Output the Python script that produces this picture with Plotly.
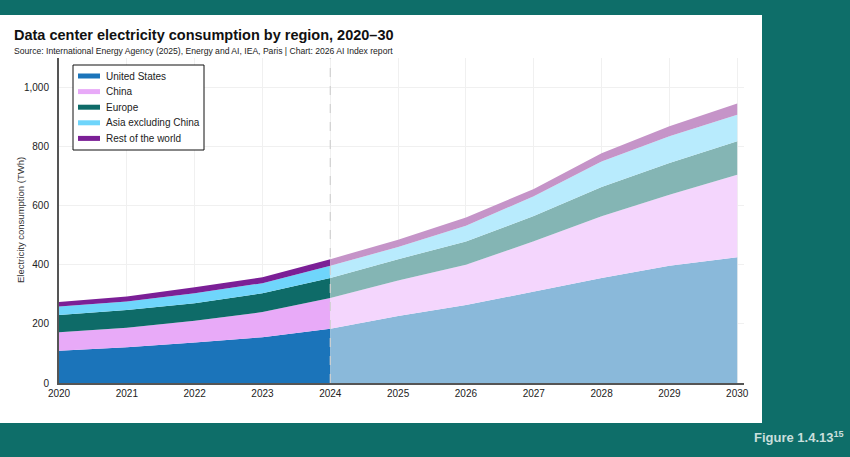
import plotly.graph_objects as go

years_hist = [2020, 2021, 2022, 2023, 2024]
years_proj = [2024, 2025, 2026, 2027, 2028, 2029, 2030]

regions = ["United States", "China", "Europe", "Asia excluding China", "Rest of the world"]

# TWh per region (stacked components)
us = [109, 121, 137, 155, 184, 227, 264, 310, 355, 397, 426]
china = [63, 66, 74, 85, 104, 120, 136, 170, 209, 240, 279]
europe = [58, 60, 59, 64, 67, 72, 79, 85, 99, 108, 113]
asia = [29, 29, 34, 34, 42, 41, 53, 67, 87, 90, 90]
row = [15, 17, 20, 20, 22, 25, 28, 25, 28, 34, 38]
all_years = [2020, 2021, 2022, 2023, 2024, 2025, 2026, 2027, 2028, 2029, 2030]

series = [us, china, europe, asia, row]
hist_colors = ["#1b74ba", "#e8aaf8", "#0e6b68", "#6fd5fb", "#7b1f96"]
proj_colors = ["#8ab9da", "#f4d6fd", "#84b5b4", "#b8ebfd", "#c594c8"]

y_ticks = [0, 200, 400, 600, 800, 1000]
y_tick_text = ["0", "200", "400", "600", "800", "1,000"]

# Plot area in pixels
L, R, T, B = 59, 744, 58, 383
W, H = 850, 457
pw, ph = R - L, B - T


def px(x):
    return (x - L) / pw


def py(y):
    return (B - y) / ph


fig = go.Figure()

n_hist = len(years_hist)
for name, vals, c in zip(regions, series, hist_colors):
    fig.add_trace(go.Scatter(
        x=years_hist, y=vals[:n_hist], stackgroup="hist", mode="lines",
        line=dict(width=0, color=c), fillcolor=c, showlegend=False,
        hoverinfo="skip"))

for name, vals, c in zip(regions, series, proj_colors):
    fig.add_trace(go.Scatter(
        x=years_proj, y=vals[n_hist - 1:], stackgroup="proj", mode="lines",
        line=dict(width=0, color=c), fillcolor=c, showlegend=False,
        hoverinfo="skip"))

font_family = "Liberation Sans, Arial, sans-serif"

shapes = [
    dict(type="rect", xref="paper", yref="paper",
         x0=px(0), x1=px(762), y0=py(423), y1=py(15),
         fillcolor="white", line=dict(width=0), layer="below"),
    dict(type="line", xref="x", yref="paper", x0=2024, x1=2024, y0=0, y1=1,
         line=dict(color="#d0d0d0", width=1.2, dash="dash"), layer="above"),
    # legend box
    dict(type="rect", xref="paper", yref="paper",
         x0=px(73), x1=px(204), y0=py(150), y1=py(65),
         fillcolor="white", line=dict(color="#111111", width=1), layer="above"),
]

annotations = [
    dict(text="<b>Data center electricity consumption by region, 2020–30</b>",
         xref="paper", yref="paper", x=px(12), y=py(35), xanchor="left", yanchor="middle",
         showarrow=False, font=dict(size=14.5, color="#111111", family=font_family)),
    dict(text="Source: International Energy Agency (2025), Energy and AI, IEA, Paris | Chart: 2026 AI Index report",
         xref="paper", yref="paper", x=px(12), y=py(51), xanchor="left", yanchor="middle",
         showarrow=False, font=dict(size=8.6, color="#222222", family=font_family)),
    dict(text="Electricity consumption (TWh)", textangle=-90,
         xref="paper", yref="paper", x=px(20), y=py(220), xanchor="center", yanchor="middle",
         showarrow=False, font=dict(size=9.5, color="#333333", family=font_family)),
    dict(text="<b>Figure 1.4.13<sup>15</sup></b>",
         xref="paper", yref="paper", x=px(846), y=py(437), xanchor="right", yanchor="middle",
         showarrow=False, font=dict(size=13, color="#c9dfdc", family=font_family)),
]

# legend entries
row_y0, row_step = 76, 15.6
for i, (name, c) in enumerate(zip(regions, hist_colors)):
    yy = row_y0 + i * row_step
    shapes.append(dict(type="line", xref="paper", yref="paper",
                       x0=px(78), x1=px(100), y0=py(yy), y1=py(yy),
                       line=dict(color=c, width=5), layer="above"))
    annotations.append(dict(text=name, xref="paper", yref="paper",
                            x=px(104), y=py(yy), xanchor="left", yanchor="middle",
                            showarrow=False,
                            font=dict(size=10, color="#222222", family=font_family)))

fig.update_layout(
    width=W, height=H,
    margin=dict(l=L, r=W - R, t=T, b=H - B, pad=0),
    paper_bgcolor="#0e6e69",
    plot_bgcolor="rgba(0,0,0,0)",
    font=dict(family=font_family, color="#222222", size=10),
    showlegend=False,
    xaxis=dict(
        range=[2020, 2030.1], tickvals=all_years, ticktext=[str(y) for y in all_years],
        showgrid=True, gridcolor="#f0f0f0", gridwidth=1,
        showline=True, linecolor="#555555", linewidth=2,
        ticks="", zeroline=False, tickfont=dict(size=10, color="#222222"),
    ),
    yaxis=dict(
        range=[0, 1100], tickvals=y_ticks, ticktext=y_tick_text,
        showgrid=True, gridcolor="#f0f0f0", gridwidth=1,
        showline=True, linecolor="#555555", linewidth=2,
        ticks="", zeroline=False, tickfont=dict(size=10, color="#222222"),
        ticklabelstandoff=6,
    ),
    shapes=shapes,
    annotations=annotations,
)

fig.write_html("out.html")
